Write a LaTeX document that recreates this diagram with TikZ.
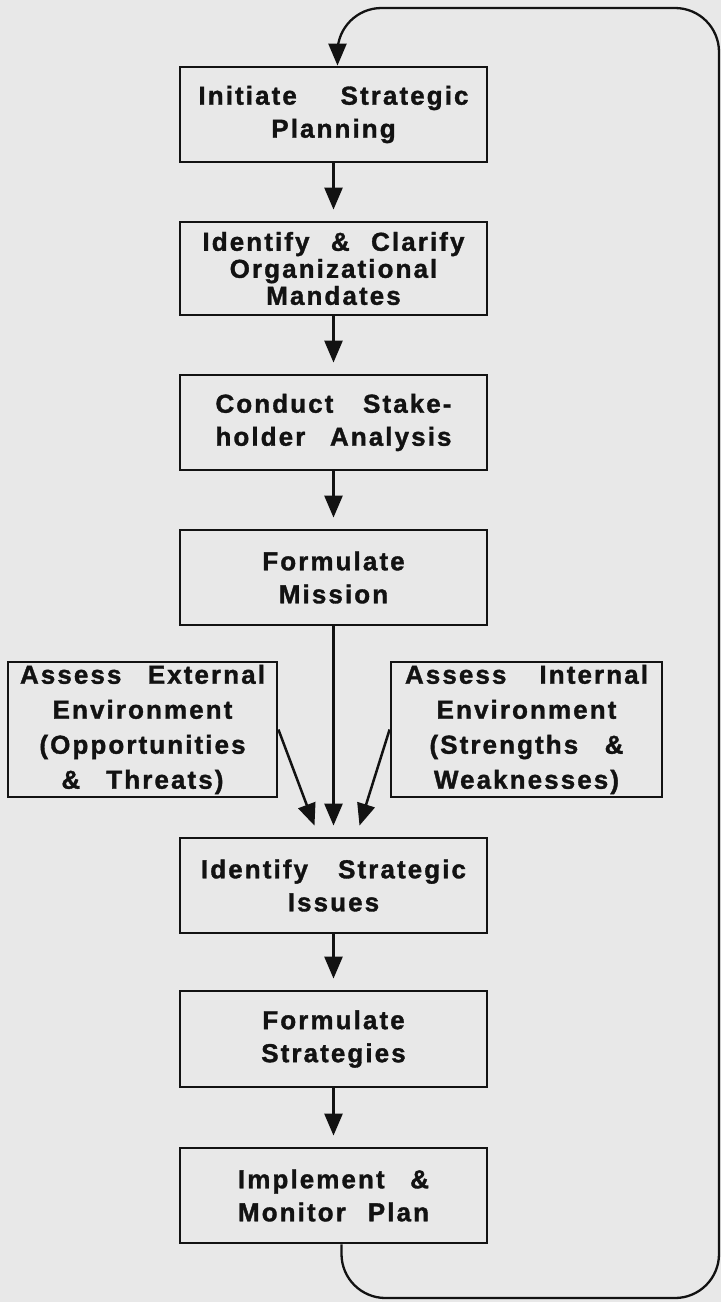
\documentclass[tikz,border=0pt]{standalone}
\usepackage{fontspec}
\newfontfamily\boxfont{Liberation Sans}[LetterSpace=8, BoldFeatures={FakeBold=1.3}]
\usetikzlibrary{arrows.meta}
\definecolor{paper}{RGB}{232,232,232}
\definecolor{ink}{RGB}{18,18,18}
\newcommand{\jl}[2]{\makebox[#1pt][s]{#2}}
\tikzset{
  box/.style={draw=ink, line width=2.8pt, inner sep=0pt, align=center, text=ink,
    minimum width=307pt, minimum height=95pt,
    font=\boxfont\bfseries\fontsize{26}{33}\selectfont},
  flow/.style={draw=ink, line width=2.5pt, -{Triangle[length=22pt,width=18pt]}, shorten >=11pt},
  feedback/.style={draw=ink, line width=2.3pt, rounded corners=44pt, -{Triangle[length=22pt,width=18pt]}}
}
\begin{document}
\begin{tikzpicture}[x=1pt,y=-1pt]
\fill[paper] (0,0) rectangle (721,1302);
\useasboundingbox (0,0) rectangle (721,1302);

\node[box] (init) at (333.5,114.5) {\jl{270}{Initiate Strategic}\\Planning};
\node[box, minimum height=93pt, font=\boxfont\bfseries\fontsize{26}{27}\selectfont] (ident) at (333.5,268.5)
  {\jl{262}{Identify \& Clarify}\\Organizational\\Mandates};
\node[box] (stake) at (333.5,422.5) {\jl{236}{Conduct Stake-}\\\jl{236}{holder Analysis}};
\node[box] (mission) at (333.5,577.5) {Formulate\\Mission};
\node[box, minimum width=269pt, minimum height=135pt, font=\boxfont\bfseries\fontsize{26}{35}\selectfont] (ext) at (142.5,729.5)
  {\jl{245}{Assess External}\\Environment\\(Opportunities\\\jl{162}{\& Threats)}};
\node[box, minimum width=271pt, minimum height=135pt, font=\boxfont\bfseries\fontsize{26}{35}\selectfont] (int) at (526.5,729.5)
  {\jl{243}{Assess Internal}\\Environment\\\jl{194}{(Strengths \&}\\Weaknesses)};
\node[box] (issues) at (333.5,885.5) {\jl{265}{Identify Strategic}\\Issues};
\node[box, minimum height=96pt] (strat) at (333.5,1039) {Formulate\\Strategies};
\node[box] (impl) at (333.5,1195.5) {\jl{191}{Implement \&}\\\jl{191}{Monitor Plan}};

\draw[flow] (init.south) -- (ident.north);
\draw[flow] (ident.south) -- (stake.north);
\draw[flow] (stake.south) -- (mission.north);
\draw[flow] (mission.south) -- (issues.north);
\draw[flow, shorten >=0pt] (ext.east) -- ([xshift=-19pt,yshift=11pt]issues.north);
\draw[flow, shorten >=0pt] (int.west) -- ([xshift=26pt,yshift=11pt]issues.north);
\draw[flow] (issues.south) -- (strat.north);
\draw[flow] (strat.south) -- (impl.north);

\coordinate (br) at (719,1298);
\coordinate (tr) at (719,8);
\coordinate (initin) at ([xshift=4pt]init.north);
\coordinate (tl) at (initin |- tr);
\draw[feedback] ([xshift=8pt]impl.south) |- (br) -- (tr) -- (tl) -- (initin);
\end{tikzpicture}
\end{document}
